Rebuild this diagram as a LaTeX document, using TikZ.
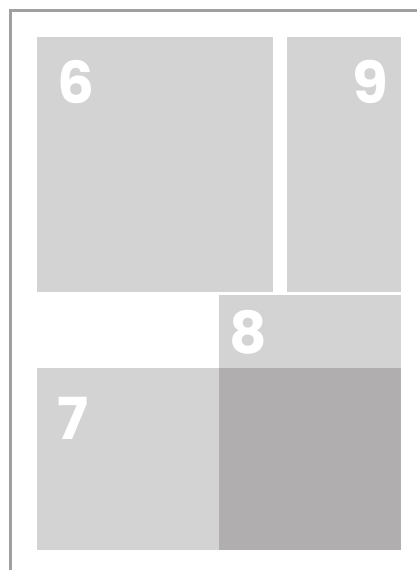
\documentclass[tikz,border=0pt]{standalone}
\usepackage{fontspec}
\usepackage{xcolor}
\newfontfamily\digitfont{Poppins}
\definecolor{panelgray}{HTML}{D3D3D3}
\definecolor{darkgray}{HTML}{B0AEAF}
\definecolor{framegray}{HTML}{A0A0A0}
\tikzset{
  panel/.style={fill=panelgray},
  numlabel/.style={font=\digitfont\bfseries\fontsize{58}{58}\selectfont,white,inner sep=0pt}
}
\begin{document}
\begin{tikzpicture}[x=1pt,y=-1pt]

  \useasboundingbox[fill=white] (0,0) rectangle (417,570);

  %% ---- Page frame (left and top edge) ----
  \draw[framegray,line width=2.5pt] (10.5,570) -- (10.5,10.5) -- (417,10.5);

  %% ---- Top row ----
  \fill[panel] (37,37) rectangle (273,292);
  \node[numlabel,anchor=base west] (six) at (57,103) {6};

  \fill[panel] (287,37) rectangle (401,292);
  \node[numlabel,anchor=base east] (nine) at (388,103) {9};

  %% ---- Middle strip ----
  \fill[panel] (219,295) rectangle (401,368);
  \node[numlabel,anchor=base west] (eight) at (229,353) {8};

  %% ---- Bottom row ----
  \fill[panel] (37,368) rectangle (219,550);
  \node[numlabel,anchor=base west] (seven) at (57,439) {7};

  % Shaded overlap
  \fill[darkgray] (219,368) rectangle (401,550);

\end{tikzpicture}
\end{document}
